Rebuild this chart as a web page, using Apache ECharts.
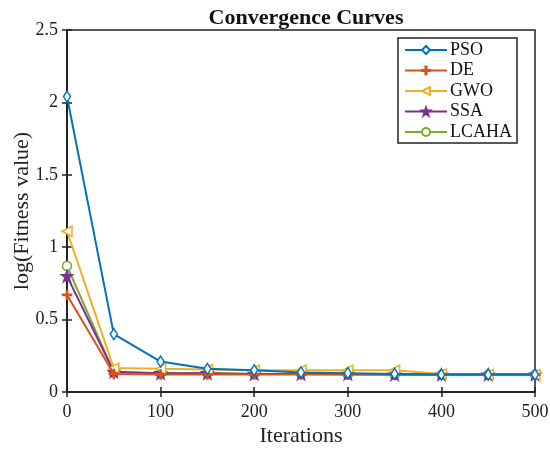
<!DOCTYPE html>
<html><head><meta charset="utf-8">
<script src="https://cdn.jsdelivr.net/npm/echarts@6/dist/echarts.min.js"></script>
<style>html,body{margin:0;padding:0;background:#fff}#c{width:550px;height:452px}</style>
</head><body><div id="c"></div>
<script>
var iterations = [0, 50, 100, 150, 200, 250, 300, 350, 400, 450, 500];
var PSO   = [2.04, 0.40, 0.21, 0.16, 0.15, 0.135, 0.13, 0.125, 0.12, 0.12, 0.12];
var DE    = [0.67, 0.125, 0.12, 0.12, 0.12, 0.12, 0.12, 0.12, 0.12, 0.12, 0.12];
var GWO   = [1.11, 0.165, 0.16, 0.155, 0.15, 0.15, 0.15, 0.15, 0.125, 0.12, 0.12];
var SSA   = [0.80, 0.14, 0.13, 0.13, 0.125, 0.125, 0.125, 0.12, 0.12, 0.12, 0.12];
var LCAHA = [0.87, 0.135, 0.13, 0.13, 0.125, 0.125, 0.12, 0.12, 0.12, 0.12, 0.12];
var names = ['PSO', 'DE', 'GWO', 'SSA', 'LCAHA'];
var values = [PSO, DE, GWO, SSA, LCAHA];
var colors = ['#0072BD', '#D95319', '#EDB120', '#7E2F8E', '#77AC30'];
var symbols = [
  'diamond',
  'path://M4.3,0 L5.7,0 L5.7,4.3 L10,4.3 L10,5.7 L5.7,5.7 L5.7,10 L4.3,10 L4.3,5.7 L0,5.7 L0,4.3 L4.3,4.3 Z',
  'path://M0,5 L10,0 L10,10 Z',
  'path://M5,0 L6.2,3.6 L10,3.6 L6.9,5.9 L8.1,9.5 L5,7.3 L1.9,9.5 L3.1,5.9 L0,3.6 L3.8,3.6 Z',
  'circle'
];
var symSizes = [[7,11], 9, 10, 11, 9];
var fills = ['#fff', '#D95319', '#fff', '#7E2F8E', '#fff'];
var font = 'Liberation Serif, Times New Roman, serif';

var series = names.map(function (n, i) {
  return {
    name: n, type: 'line',
    data: iterations.map(function (x, j) { return [x, values[i][j]]; }),
    symbol: symbols[i], symbolSize: symSizes[i], showSymbol: true,
    lineStyle: { color: colors[i], width: 2 },
    itemStyle: { color: fills[i], borderColor: colors[i], borderWidth: 1.5 },
    z: 10 - i
  };
});

var chart = echarts.init(document.getElementById('c'));
chart.setOption({
  animation: false,
  backgroundColor: '#fff',
  title: { text: 'Convergence Curves', left: 301, top: 2, textAlign: 'center',
    textStyle: { fontFamily: font, fontWeight: 'bold', fontSize: 22, color: '#111' } },
  grid: { left: 67, right: 15, top: 30, bottom: 60, containLabel: false, outerBoundsMode: 'none',
    show: true, borderColor: '#222', borderWidth: 1.5, backgroundColor: 'transparent' },
  legend: {
    data: names, orient: 'vertical', left: 398, top: 38,
    itemWidth: 42, itemHeight: 10, itemGap: 2.5,
    borderColor: '#222', borderWidth: 1.5, backgroundColor: '#fff',
    padding: [3, 5, 2, 6],
    textStyle: { fontFamily: font, fontSize: 18, lineHeight: 18, color: '#111', padding: [0, 0, 0, -2] }
  },
  xAxis: [{
    type: 'value', min: 0, max: 500, interval: 100,
    name: 'Iterations', nameLocation: 'middle', nameGap: 33, nameMoveOverlap: false,
    nameTextStyle: { fontFamily: font, fontSize: 22, color: '#222' },
    axisLine: { show: true, lineStyle: { color: '#222', width: 1.5 } },
    axisTick: { show: true, inside: true, length: 5, lineStyle: { color: '#222', width: 1.5 } },
    axisLabel: { fontFamily: font, fontSize: 18, color: '#222', margin: 11 },
    splitLine: { show: false }
  }, {
    type: 'value', min: 0, max: 500, interval: 100, position: 'top',
    axisLine: { show: true, lineStyle: { color: '#222', width: 1.5 } },
    axisTick: { show: true, inside: true, length: 5, lineStyle: { color: '#222', width: 1.5 } },
    axisLabel: { show: false }, splitLine: { show: false }
  }],
  yAxis: [{
    type: 'value', min: 0, max: 2.5, interval: 0.5,
    name: 'log(Fitness value)', nameLocation: 'middle', nameGap: 34, nameMoveOverlap: false,
    nameTextStyle: { fontFamily: font, fontSize: 22, color: '#222' },
    axisLine: { show: true, lineStyle: { color: '#222', width: 1.5 } },
    axisTick: { show: true, inside: true, length: 5, lineStyle: { color: '#222', width: 1.5 } },
    axisLabel: { fontFamily: font, fontSize: 18, color: '#222', margin: 9 },
    splitLine: { show: false }
  }, {
    type: 'value', min: 0, max: 2.5, interval: 0.5, position: 'right',
    axisLine: { show: true, lineStyle: { color: '#222', width: 1.5 } },
    axisTick: { show: true, inside: true, length: 5, lineStyle: { color: '#222', width: 1.5 } },
    axisLabel: { show: false }, splitLine: { show: false }
  }],
  series: series
});
</script></body></html>
